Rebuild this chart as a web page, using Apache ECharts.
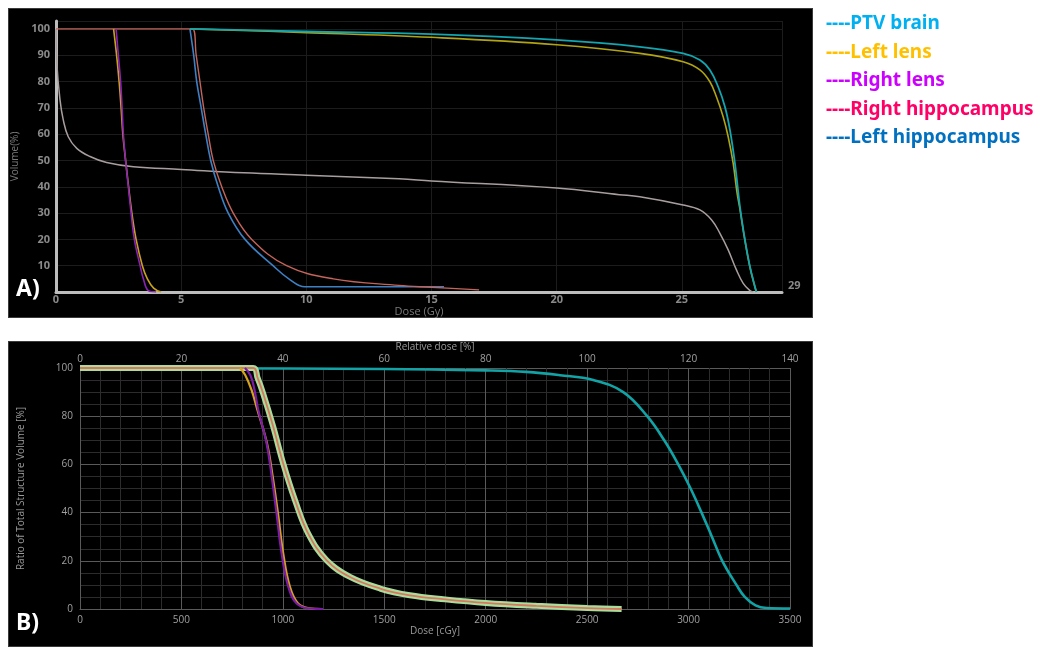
<!DOCTYPE html>
<html>
<head>
<meta charset="utf-8">
<script src="https://cdn.jsdelivr.net/npm/echarts@6/dist/echarts.min.js"></script>
<style>
  html, body { margin:0; padding:0; background:#ffffff; }
  #wrap { position:relative; width:1048px; height:647px; }
  .panel { position:absolute; background:#000; border:1px solid #3a3a3a; box-sizing:border-box; }
  #chart { position:absolute; left:0; top:0; width:1048px; height:647px; }
</style>
</head>
<body>
<div id="wrap">
  <div class="panel" style="left:8px;top:8px;width:805px;height:310px;"></div>
  <div class="panel" style="left:8px;top:341px;width:805px;height:306px;"></div>
  <div id="chart"></div>
</div>
<script>
// ---------- Panel A data: Dose (Gy) vs Volume (%) ----------
const aGray = [[0,100],[0.04,86],[0.16,73],[0.29,65.4],[0.49,59],[0.83,54.6],[1.36,51.5],[2.02,49.2],[3.09,47.6],[5,46.6],[7.5,45.3],[10,44.4],[13.7,43],[15,42.2],[20,39.5],[22.5,37],[23.32,36.2],[25.05,33.1],[25.72,31.2],[26.19,27.4],[26.52,22.3],[26.85,16],[27.18,8.4],[27.45,3.3],[27.72,0.5],[27.85,0]];
const aCyan = [[5.35,100],[10,99],[15,98],[20,95.8],[23.32,93.2],[25.05,90.7],[25.72,88.2],[26.12,84.4],[26.45,78],[26.72,70.4],[26.92,61.6],[27.12,48.9],[27.32,32.4],[27.52,19.8],[27.72,9.6],[27.92,2],[27.98,0]];
const aOlive = [[5.35,100],[10,98.6],[15,96.8],[20,94],[23.32,90.7],[25.05,87.5],[25.72,84.4],[26.12,79.9],[26.38,74.2],[26.65,66.6],[26.85,59],[27.05,48.9],[27.2,38],[27.32,31.5],[27.52,19.5],[27.72,9.4],[27.92,1.8],[27.98,0]];
const aLensPurple = [[2.4,100],[2.49,90],[2.58,80],[2.64,70],[2.69,60],[2.78,50],[2.89,40],[3.0,30],[3.13,20],[3.36,10],[3.49,5],[3.69,0.5],[4.0,0]];
const aLensYellow = [[2.3,100],[2.42,90],[2.52,80],[2.6,70],[2.67,60],[2.78,50],[2.9,40],[3.03,30],[3.2,20],[3.45,10],[3.65,5],[3.9,1.5],[4.2,0]];
const aRed = [[0,100],[5.45,100],[5.6,90],[5.75,80],[5.9,70],[6.08,60],[6.28,50],[6.62,40],[7.08,30],[7.82,20],[9.21,10],[11.08,5],[13.7,2.5],[15,1.8],[16.9,0.8]];
const aBlue = [[5.35,100],[5.5,90],[5.62,80],[5.8,70],[5.98,60],[6.18,50],[6.48,40],[6.88,30],[7.55,20],[8.67,10],[9.3,5],[9.94,2],[15.5,2]];

// ---------- Panel B data: Dose (cGy) vs Ratio of total structure volume (%) ----------
const bCyan = [[0,100],[1500,99.6],[2000,99],[2200,98.4],[2366,97],[2530,95],[2678,90],[2796,80],[2880,70],[2949,60],[3010,50],[3064,40],[3115,30],[3166,20],[3236,10],[3277,5],[3330,1.5],[3384,0.4],[3500,0.2]];
const bLensPurple = [[813,100],[840,97],[860,91],[879,82.5],[920,68.7],[945,54.9],[969,39.7],[994,23],[1027,9.2],[1068,2.3],[1134,0.2],[1199,0]];
const bLensYellow = [[789,100],[815,97],[845,91],[875,82.5],[922,68.7],[950,54.9],[976,39.7],[1002,23],[1035,9.2],[1075,2.3],[1130,0.3],[1190,0]];
const bHippo = [[0,100],[854,100],[875,96],[903,89.4],[953,75.5],[1002,60.3],[1060,45.1],[1125,31.3],[1216,20.2],[1331,13.3],[1479,8.5],[1626,5.7],[1800,4],[2000,2.5],[2250,1.3],[2500,0.4],[2670,0]];

// ---------- Legend ----------
const legendNames = ['PTV brain', 'Left lens', 'Right lens', 'Right hippocampus', 'Left hippocampus'];
const legendColors = ['#00b0f0', '#ffc000', '#cc00ff', '#ff0066', '#0070c0'];

const tickFont = '"Open Sans", "DejaVu Sans", sans-serif';

function line(name, data, color, width, xi, yi, z) {
  return {
    name, type: 'line', data, xAxisIndex: xi, yAxisIndex: yi,
    showSymbol: false, symbol: 'none', smooth: 0.4,
    lineStyle: { color, width }, z: z || 2, silent: true, animation: false
  };
}

const chart = echarts.init(document.getElementById('chart'), null, { renderer: 'canvas' });
const plain = v => String(v);

const option = {
  backgroundColor: 'transparent',
  animation: false,
  grid: [
    { left: 56, top: 21, width: 726, height: 271 },
    { left: 80, top: 368, width: 710, height: 241 }
  ],
  xAxis: [
    {
      gridIndex: 0, type: 'value', min: 0, max: 29, interval: 5,
      name: 'Dose (Gy)', nameLocation: 'middle', nameGap: 14,
      nameTextStyle: { color: '#7a7a7a', fontSize: 11, fontFamily: tickFont },
      axisLine: { show: true, lineStyle: { color: '#bdbdbd', width: 3 } },
      axisTick: { show: false },
      axisLabel: { color: '#8a8a8a', fontSize: 11, fontWeight: 'bold', margin: 2, fontFamily: tickFont, showMaxLabel: false, formatter: plain },
      splitLine: { show: true, lineStyle: { color: '#1c1c1c', width: 1 } }
    },
    {
      gridIndex: 1, type: 'value', min: 0, max: 3500, interval: 500, position: 'bottom',
      name: 'Dose [cGy]', nameLocation: 'middle', nameGap: 17,
      nameTextStyle: { color: '#9a9a9a', fontSize: 10, fontFamily: tickFont },
      axisLine: { show: true, lineStyle: { color: '#5a5a5a', width: 1 } },
      axisTick: { show: false },
      minorTick: { show: false, splitNumber: 5 },
      axisLabel: { color: '#a0a0a0', fontSize: 10, margin: 6, fontFamily: tickFont, formatter: plain },
      splitLine: { show: true, lineStyle: { color: '#5a5a5a', width: 1 } },
      minorSplitLine: { show: true, lineStyle: { color: '#2c2c2c', width: 1 } }
    },
    {
      gridIndex: 1, type: 'value', min: 0, max: 140, interval: 20, position: 'top',
      name: 'Relative dose [%]', nameLocation: 'middle', nameGap: 16,
      nameTextStyle: { color: '#9a9a9a', fontSize: 10, fontFamily: tickFont },
      axisLine: { show: false },
      axisTick: { show: false },
      axisLabel: { color: '#a0a0a0', fontSize: 10, margin: 4, fontFamily: tickFont, formatter: plain },
      splitLine: { show: false }
    }
  ],
  yAxis: [
    {
      gridIndex: 0, type: 'value', min: 0, max: 103, interval: 10,
      name: 'Volume(%)', nameLocation: 'middle', nameGap: 34,
      nameTextStyle: { color: '#7a7a7a', fontSize: 10, fontFamily: tickFont },
      axisLine: { show: true, lineStyle: { color: '#bdbdbd', width: 3 } },
      axisTick: { show: false },
      axisLabel: { color: '#8a8a8a', fontSize: 11, fontWeight: 'bold', margin: 6, fontFamily: tickFont, showMinLabel: false, showMaxLabel: false, formatter: plain },
      splitLine: { show: true, lineStyle: { color: '#1c1c1c', width: 1 } }
    },
    {
      gridIndex: 1, type: 'value', min: 0, max: 100, interval: 20,
      name: 'Ratio of Total Structure Volume [%]', nameLocation: 'middle', nameGap: 54,
      nameTextStyle: { color: '#9a9a9a', fontSize: 10, fontFamily: tickFont },
      axisLine: { show: true, lineStyle: { color: '#5a5a5a', width: 1 } },
      axisTick: { show: false },
      minorTick: { show: false, splitNumber: 4 },
      axisLabel: { color: '#a0a0a0', fontSize: 10, margin: 7, fontFamily: tickFont, formatter: plain },
      splitLine: { show: true, lineStyle: { color: '#5a5a5a', width: 1 } },
      minorSplitLine: { show: true, lineStyle: { color: '#2c2c2c', width: 1 } }
    }
  ],
  series: [
    line('A body', aGray, '#a89e9e', 1.5, 0, 0),
    line('A left hippocampus', aBlue, '#3d80c4', 1.6, 0, 0),
    line('A right hippocampus', aRed, '#c4645a', 1.4, 0, 0),
    line('A left lens', aLensYellow, '#c9a21c', 1.6, 0, 0),
    line('A right lens', aLensPurple, '#8a22b4', 1.6, 0, 0),
    line('A structure', aOlive, '#b0a414', 1.6, 0, 0),
    line('A PTV brain', aCyan, '#12a6b0', 1.8, 0, 0),

    line('B PTV brain', bCyan, '#12a3a6', 2.6, 1, 1),
    line('B hippocampus band', bHippo, '#a9dd9c', 6, 1, 1),
    line('B right hippocampus', bHippo, '#d9765f', 1.8, 1, 1, 3),
    line('B left lens', bLensYellow, '#d6a21e', 2.2, 1, 1, 3),
    line('B right lens', bLensPurple, '#7a1ca6', 2.2, 1, 1, 3)
  ]
};

const graphics = [];
legendNames.forEach((n, i) => {
  graphics.push({
    type: 'text', x: 826, y: 24 + i * 28.4, silent: true,
    style: {
      text: '----' + n, fill: legendColors[i],
      font: 'bold 19px "Noto Sans", "DejaVu Sans", sans-serif',
      align: 'left', verticalAlign: 'middle', textAlign: 'left', textVerticalAlign: 'middle'
    }
  });
});
['A)', 'B)'].forEach((t, i) => {
  graphics.push({
    type: 'text', x: 16, y: i === 0 ? 289 : 623, silent: true,
    style: {
      text: t, fill: '#ffffff', font: 'bold 23px "Noto Sans", "DejaVu Sans", sans-serif',
      align: 'left', verticalAlign: 'middle', textAlign: 'left', textVerticalAlign: 'middle'
    }
  });
});
option.graphic = { elements: graphics };
chart.setOption(option);

// end label "29" of panel A's dose axis, placed beside the end of the axis line
const endX = 29;
const p = chart.convertToPixel({ xAxisIndex: 0, yAxisIndex: 0 }, [endX, 0]);
graphics.push({
  type: 'text', x: p[0] + 6, y: p[1] - 6, silent: true,
  style: {
    text: String(endX), fill: '#8a8a8a', font: 'bold 11px "Open Sans", "DejaVu Sans", sans-serif',
    align: 'left', verticalAlign: 'middle', textAlign: 'left', textVerticalAlign: 'middle'
  }
});
chart.setOption({ graphic: { elements: graphics } });
</script>
</body>
</html>
